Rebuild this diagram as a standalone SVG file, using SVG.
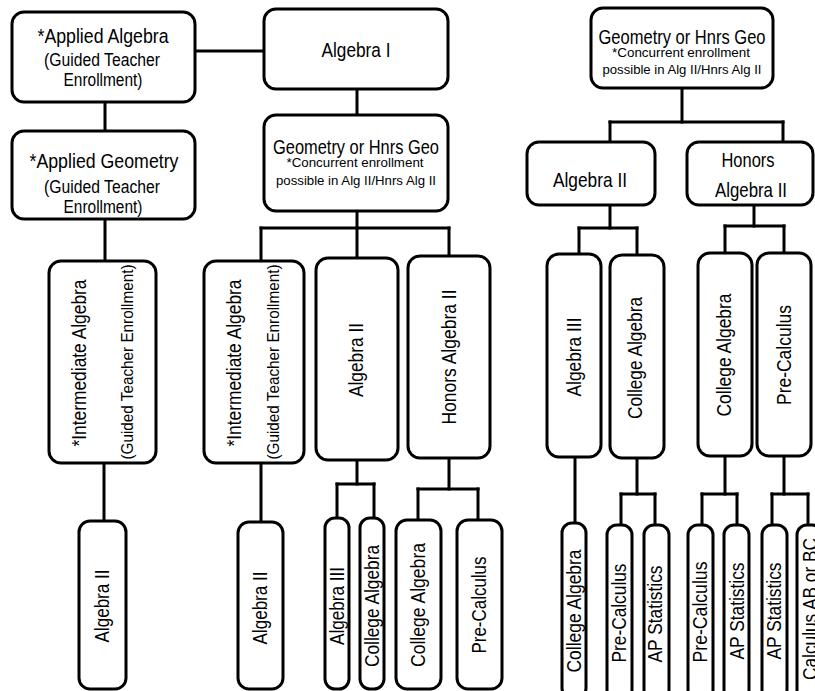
<svg xmlns="http://www.w3.org/2000/svg" width="815" height="691" viewBox="0 0 815 691">
<style>
.b{fill:#fff;stroke:#000;stroke-width:3}
.c line{stroke:#000;stroke-width:3;stroke-linecap:square}
text{font-family:"Liberation Sans",Arial,sans-serif;fill:#000;text-anchor:middle}
.h19{font-size:20.5px}.h16{font-size:17.5px}.h12{font-size:13px}.h20{font-size:21px}
.v{font-size:20.5px}.v18{font-size:19.5px}.v16{font-size:17px}
</style>
<rect width="815" height="691" fill="#fff"/>
<g class="c" id="connectors">
<line x1="195" y1="51" x2="264" y2="51"/>
<line x1="105" y1="102" x2="105" y2="131"/>
<line x1="105" y1="219" x2="105" y2="261"/>
<line x1="104" y1="463" x2="104" y2="521"/>
<line x1="357" y1="89" x2="357" y2="115"/>
<line x1="357" y1="211" x2="357" y2="228"/>
<line x1="261" y1="228" x2="449" y2="228"/>
<line x1="261" y1="228" x2="261" y2="261"/>
<line x1="357" y1="228" x2="357" y2="258"/>
<line x1="449" y1="228" x2="449" y2="256"/>
<line x1="261" y1="463" x2="261" y2="522"/>
<line x1="357" y1="460" x2="357" y2="484"/>
<line x1="337" y1="484" x2="374" y2="484"/>
<line x1="337" y1="484" x2="337" y2="518"/>
<line x1="374" y1="484" x2="374" y2="518"/>
<line x1="449" y1="458" x2="449" y2="489"/>
<line x1="418" y1="489" x2="478" y2="489"/>
<line x1="418" y1="489" x2="418" y2="520"/>
<line x1="478" y1="489" x2="478" y2="520"/>
<line x1="682" y1="88" x2="682" y2="122"/>
<line x1="610" y1="122" x2="783" y2="122"/>
<line x1="610" y1="122" x2="610" y2="142"/>
<line x1="783" y1="122" x2="783" y2="142"/>
<line x1="610" y1="205" x2="610" y2="228"/>
<line x1="579" y1="228" x2="637" y2="228"/>
<line x1="579" y1="228" x2="579" y2="254"/>
<line x1="637" y1="228" x2="637" y2="255"/>
<line x1="754" y1="205" x2="754" y2="226"/>
<line x1="725" y1="226" x2="784" y2="226"/>
<line x1="725" y1="226" x2="725" y2="253"/>
<line x1="784" y1="226" x2="784" y2="253"/>
<line x1="575" y1="457" x2="575" y2="525"/>
<line x1="637" y1="458" x2="637" y2="494"/>
<line x1="621" y1="494" x2="655" y2="494"/>
<line x1="621" y1="494" x2="621" y2="525"/>
<line x1="655" y1="494" x2="655" y2="525"/>
<line x1="725" y1="456" x2="725" y2="494"/>
<line x1="702" y1="494" x2="737" y2="494"/>
<line x1="702" y1="494" x2="702" y2="525"/>
<line x1="737" y1="494" x2="737" y2="525"/>
<line x1="784" y1="456" x2="784" y2="494"/>
<line x1="772" y1="494" x2="808" y2="494"/>
<line x1="772" y1="494" x2="772" y2="525"/>
<line x1="808" y1="494" x2="808" y2="525"/>
</g>
<g id="applied-algebra"><rect class="b" x="12" y="12" width="183" height="90" rx="12"/>
<text class="h19" x="103" y="43" textLength="131" lengthAdjust="spacingAndGlyphs">*Applied Algebra</text>
<text class="h16" x="102" y="66" textLength="116" lengthAdjust="spacingAndGlyphs">(Guided Teacher</text>
<text class="h16" x="103" y="86" textLength="79" lengthAdjust="spacingAndGlyphs">Enrollment)</text></g>
<g id="algebra-1"><rect class="b" x="264" y="9" width="184" height="80" rx="12"/>
<text class="h19" x="356" y="57" textLength="69" lengthAdjust="spacingAndGlyphs">Algebra I</text></g>
<g id="applied-geometry"><rect class="b" x="12" y="131" width="183" height="88" rx="12"/>
<text class="h19" x="104" y="168" textLength="149" lengthAdjust="spacingAndGlyphs">*Applied Geometry</text>
<text class="h16" x="102" y="193" textLength="116" lengthAdjust="spacingAndGlyphs">(Guided Teacher</text>
<text class="h16" x="103" y="213" textLength="79" lengthAdjust="spacingAndGlyphs">Enrollment)</text></g>
<g id="geometry-mid"><rect class="b" x="264" y="115" width="184" height="96" rx="12"/>
<text class="h19" x="356" y="154" textLength="166" lengthAdjust="spacingAndGlyphs">Geometry or Hnrs Geo</text>
<text class="h12" x="355" y="167" textLength="137" lengthAdjust="spacingAndGlyphs">*Concurrent enrollment</text>
<text class="h12" x="356" y="185" textLength="160" lengthAdjust="spacingAndGlyphs">possible in Alg II/Hnrs Alg II</text></g>
<g id="geometry-right"><rect class="b" x="591" y="8" width="182" height="80" rx="12"/>
<text class="h19" x="682" y="44" textLength="167" lengthAdjust="spacingAndGlyphs">Geometry or Hnrs Geo</text>
<text class="h12" x="681" y="57" textLength="138" lengthAdjust="spacingAndGlyphs">*Concurrent enrollment</text>
<text class="h12" x="682" y="74" textLength="159" lengthAdjust="spacingAndGlyphs">possible in Alg II/Hnrs Alg II</text></g>
<g id="algebra-2-right"><rect class="b" x="527" y="142" width="128" height="63" rx="12"/>
<text class="h20" x="590" y="187" textLength="74" lengthAdjust="spacingAndGlyphs">Algebra II</text></g>
<g id="honors-algebra-2-right"><rect class="b" x="687" y="142" width="126" height="63" rx="12"/>
<text class="h20" x="748" y="167" textLength="53" lengthAdjust="spacingAndGlyphs">Honors</text>
<text class="h20" x="751" y="197" textLength="72" lengthAdjust="spacingAndGlyphs">Algebra II</text></g>
<g id="intermediate-left"><rect class="b" x="49" y="261" width="107" height="202" rx="12"/>
<text class="v18" transform="translate(86,363) rotate(-90)" textLength="167" lengthAdjust="spacingAndGlyphs">*Intermediate Algebra</text>
<text class="v16" transform="translate(133,362) rotate(-90)" textLength="195" lengthAdjust="spacingAndGlyphs">(Guided Teacher Enrollment)</text></g>
<g id="intermediate-mid"><rect class="b" x="204" y="261" width="100" height="202" rx="12"/>
<text class="v18" transform="translate(241,363) rotate(-90)" textLength="167" lengthAdjust="spacingAndGlyphs">*Intermediate Algebra</text>
<text class="v16" transform="translate(279,362) rotate(-90)" textLength="195" lengthAdjust="spacingAndGlyphs">(Guided Teacher Enrollment)</text></g>
<g id="algebra-2-mid"><rect class="b" x="316" y="258" width="82" height="202" rx="12"/>
<text class="v" transform="translate(363,360) rotate(-90)" textLength="74" lengthAdjust="spacingAndGlyphs">Algebra II</text></g>
<g id="honors-algebra-2-mid"><rect class="b" x="408" y="256" width="82" height="202" rx="12"/>
<text class="v" transform="translate(456,357) rotate(-90)" textLength="135" lengthAdjust="spacingAndGlyphs">Honors Algebra II</text></g>
<g id="algebra-3-right"><rect class="b" x="547" y="254" width="54" height="203" rx="12"/>
<text class="v" transform="translate(581,357) rotate(-90)" textLength="79" lengthAdjust="spacingAndGlyphs">Algebra III</text></g>
<g id="college-algebra-right"><rect class="b" x="610" y="255" width="54" height="203" rx="12"/>
<text class="v" transform="translate(642,358) rotate(-90)" textLength="122" lengthAdjust="spacingAndGlyphs">College Algebra</text></g>
<g id="college-algebra-honors"><rect class="b" x="698" y="253" width="54" height="203" rx="12"/>
<text class="v" transform="translate(731,355) rotate(-90)" textLength="123" lengthAdjust="spacingAndGlyphs">College Algebra</text></g>
<g id="pre-calculus-honors"><rect class="b" x="757" y="253" width="54" height="203" rx="12"/>
<text class="v" transform="translate(791,355) rotate(-90)" textLength="100" lengthAdjust="spacingAndGlyphs">Pre-Calculus</text></g>
<g id="b-algebra-2-a"><rect class="b" x="79" y="521" width="47" height="168" rx="11"/>
<text class="v" transform="translate(109,606) rotate(-90)" textLength="73" lengthAdjust="spacingAndGlyphs">Algebra II</text></g>
<g id="b-algebra-2-b"><rect class="b" x="238" y="522" width="45" height="167" rx="11"/>
<text class="v" transform="translate(267,608) rotate(-90)" textLength="73" lengthAdjust="spacingAndGlyphs">Algebra II</text></g>
<g id="b-algebra-3"><rect class="b" x="325" y="518" width="24" height="171" rx="10"/>
<text class="v" transform="translate(344,606) rotate(-90)" textLength="78" lengthAdjust="spacingAndGlyphs">Algebra III</text></g>
<g id="b-college-algebra-a"><rect class="b" x="360" y="518" width="24" height="171" rx="10"/>
<text class="v" transform="translate(379,606) rotate(-90)" textLength="122" lengthAdjust="spacingAndGlyphs">College Algebra</text></g>
<g id="b-college-algebra-b"><rect class="b" x="396" y="520" width="45" height="169" rx="11"/>
<text class="v" transform="translate(425,605) rotate(-90)" textLength="124" lengthAdjust="spacingAndGlyphs">College Algebra</text></g>
<g id="b-pre-calculus-a"><rect class="b" x="457" y="520" width="45" height="169" rx="11"/>
<text class="v" transform="translate(486,605) rotate(-90)" textLength="97" lengthAdjust="spacingAndGlyphs">Pre-Calculus</text></g>
<g id="b-college-algebra-c"><rect class="b" x="562" y="523" width="24" height="175" rx="10"/>
<text class="v" transform="translate(581,611) rotate(-90)" textLength="123" lengthAdjust="spacingAndGlyphs">College Algebra</text></g>
<g id="b-pre-calculus-b"><rect class="b" x="607" y="525" width="25" height="175" rx="10"/>
<text class="v" transform="translate(626,613) rotate(-90)" textLength="99" lengthAdjust="spacingAndGlyphs">Pre-Calculus</text></g>
<g id="b-ap-statistics-a"><rect class="b" x="644" y="525" width="25" height="175" rx="10"/>
<text class="v" transform="translate(662,614) rotate(-90)" textLength="97" lengthAdjust="spacingAndGlyphs">AP Statistics</text></g>
<g id="b-pre-calculus-c"><rect class="b" x="688" y="525" width="25" height="175" rx="10"/>
<text class="v" transform="translate(707,612) rotate(-90)" textLength="101" lengthAdjust="spacingAndGlyphs">Pre-Calculus</text></g>
<g id="b-ap-statistics-b"><rect class="b" x="724" y="525" width="25" height="175" rx="10"/>
<text class="v" transform="translate(744,611) rotate(-90)" textLength="97" lengthAdjust="spacingAndGlyphs">AP Statistics</text></g>
<g id="b-ap-statistics-c"><rect class="b" x="762" y="525" width="25" height="175" rx="10"/>
<text class="v" transform="translate(781,611) rotate(-90)" textLength="97" lengthAdjust="spacingAndGlyphs">AP Statistics</text></g>
<g id="b-calculus"><rect class="b" x="797" y="525" width="25" height="175" rx="10"/>
<text class="v" transform="translate(817,609) rotate(-90)" textLength="142" lengthAdjust="spacingAndGlyphs">Calculus AB or BC</text></g>
</svg>
